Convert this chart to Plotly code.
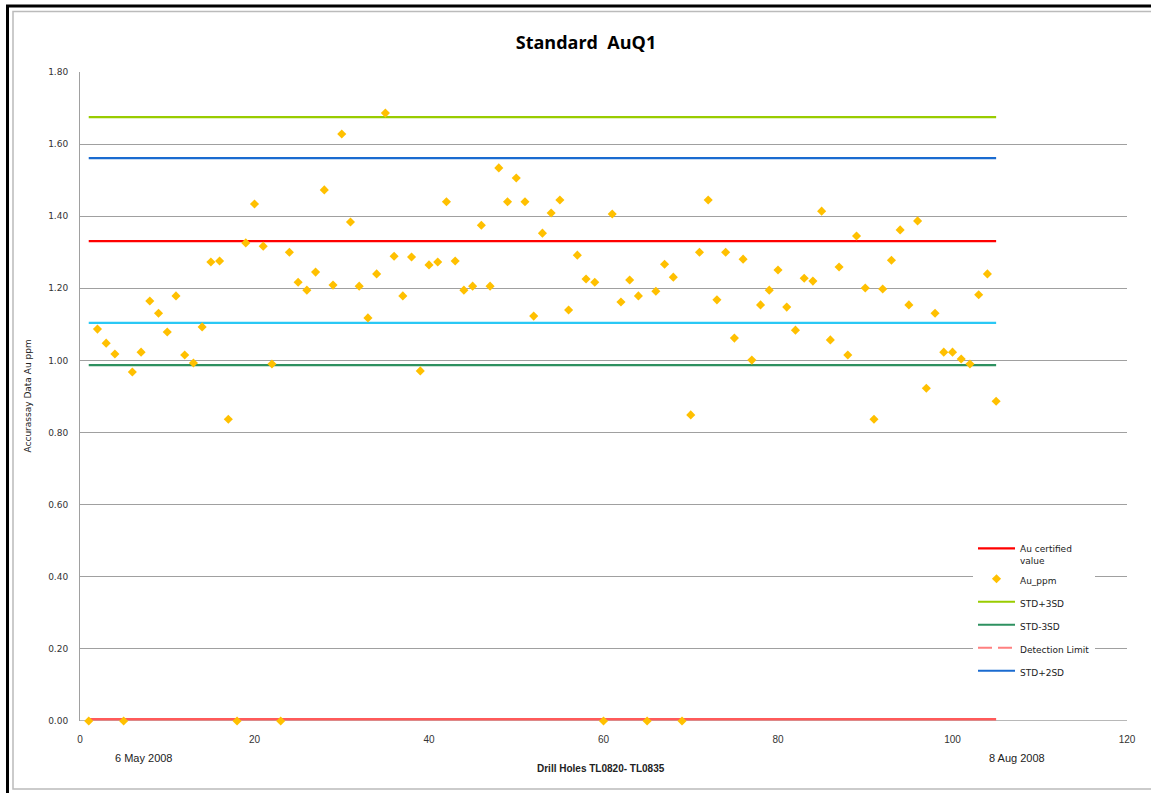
import plotly.graph_objects as go

# ---------------- data ----------------
holes = list(range(1, 106))
au_ppm = [
    0.000, 1.087, 1.048, 1.018, 0.000, 0.968, 1.023, 1.165, 1.131, 1.079,
    1.179, 1.015, 0.993, 1.093, 1.273, 1.276, 0.837, 0.000, 1.326, 1.434,
    1.317, 0.990, 0.000, 1.300, 1.217, 1.195, 1.245, 1.473, 1.209, 1.628,
    1.384, 1.206, 1.118, 1.240, 1.686, 1.289, 1.179, 1.287, 0.971, 1.265,
    1.273, 1.440, 1.276, 1.195, 1.206, 1.375, 1.206, 1.534, 1.440, 1.506,
    1.440, 1.123, 1.353, 1.409, 1.445, 1.140, 1.292, 1.226, 1.217, 0.000,
    1.406, 1.162, 1.223, 1.179, 0.000, 1.192, 1.267, 1.231, 0.000, 0.849,
    1.300, 1.445, 1.168, 1.300, 1.062, 1.281, 1.001, 1.154, 1.195, 1.251,
    1.148, 1.084, 1.228, 1.220, 1.414, 1.057, 1.259, 1.015, 1.345, 1.201,
    0.837, 1.198, 1.278, 1.362, 1.154, 1.387, 0.923, 1.131, 1.023, 1.023,
    1.004, 0.990, 1.182, 1.240, 0.887,
]
certified = 1.331
std_plus_3sd = 1.675
std_plus_2sd = 1.561
std_minus_2sd = 1.104
std_minus_3sd = 0.987
detection_limit = 0.005

y_ticks = [0.0, 0.2, 0.4, 0.6, 0.8, 1.0, 1.2, 1.4, 1.6, 1.8]
x_ticks = [0, 20, 40, 60, 80, 100, 120]

# ---------------- geometry helpers (pixel -> paper) ----------------
W, H = 1151, 793
L, R, T, B = 80, 24, 72, 72
PW, PH = W - L - R, H - T - B


def px(x):
    return (x - L) / PW


def py(y):
    return (H - B - y) / PH


def flat(v):
    return [v] * len(holes)


fig = go.Figure()

line_w = 2.2
fig.add_trace(go.Scatter(x=holes, y=flat(std_plus_3sd), mode="lines", name="STD+3SD",
                         line=dict(color="#99CC00", width=line_w), legendrank=3,
                         legendgroup="g3"))
fig.add_trace(go.Scatter(x=holes, y=flat(std_plus_2sd), mode="lines", name="STD+2SD",
                         line=dict(color="#1A6BD0", width=line_w), legendrank=6,
                         legendgroup="g6"))
fig.add_trace(go.Scatter(x=holes, y=flat(certified), mode="lines", name="Au certified<br>value",
                         line=dict(color="#FF0000", width=line_w), legendrank=1,
                         legendgroup="g1"))
fig.add_trace(go.Scatter(x=holes, y=flat(std_minus_2sd), mode="lines", name="STD-2SD",
                         line=dict(color="#2AC8F5", width=line_w), showlegend=False))
fig.add_trace(go.Scatter(x=holes, y=flat(std_minus_3sd), mode="lines", name="STD-3SD",
                         line=dict(color="#2E9160", width=line_w), legendrank=4,
                         legendgroup="g4"))
fig.add_trace(go.Scatter(x=holes, y=flat(detection_limit), mode="lines", name="Detection Limit",
                         line=dict(color="#FF5A5A", width=2.5), showlegend=False,
                         cliponaxis=False))
fig.add_trace(go.Scatter(x=holes, y=[None] * len(holes), mode="lines", name="Detection Limit",
                         line=dict(color="#FF8080", width=2, dash="14px,6px"), legendrank=5,
                         legendgroup="g5"))
fig.add_trace(go.Scatter(x=holes, y=au_ppm, mode="markers", name="Au_ppm",
                         marker=dict(symbol="diamond", size=7, color="#FFC000",
                                     line=dict(width=0)),
                         cliponaxis=False, legendrank=2, legendgroup="g2"))

grid_col = "#A0A0A0"
fig.update_xaxes(range=[0, 120], tickvals=x_ticks, ticktext=[str(v) for v in x_ticks],
                 showgrid=False, zeroline=False, showline=False,
                 tickfont=dict(family="Liberation Sans Narrow, Liberation Sans", size=10, color="#333333"),
                 ticklabelstandoff=11)
fig.update_yaxes(range=[0, 1.8], tickvals=y_ticks, tickformat=".2f",
                 showgrid=True, gridcolor=grid_col, gridwidth=1,
                 zeroline=False, showline=True, linecolor=grid_col, linewidth=1,
                 tickfont=dict(family="DejaVu Sans", size=9, color="#333333"),
                 ticklabelstandoff=9)

shapes = [
    # outer black frame (top & left)
    dict(type="line", xref="paper", yref="paper", x0=px(6), x1=px(1160), y0=py(6), y1=py(6),
         line=dict(color="black", width=3)),
    dict(type="line", xref="paper", yref="paper", x0=px(7.5), x1=px(7.5), y0=py(5), y1=py(800),
         line=dict(color="black", width=3)),
    # gray chart-area border
    dict(type="rect", xref="paper", yref="paper", x0=px(13), x1=px(1160), y0=py(789), y1=py(11.5),
         line=dict(color="#BBBBBB", width=1.5)),
    # bottom axis line at 0
    dict(type="line", xref="paper", yref="y", x0=0, x1=1, y0=0, y1=0,
         line=dict(color=grid_col, width=1.5), layer="below"),
]

ann_font = "Liberation Sans Narrow, Liberation Sans"
annotations = [
    dict(text="Accurassay Data Au ppm", xref="paper", yref="paper", x=px(27), y=0.5,
         xanchor="center", yanchor="middle",
         textangle=-90, showarrow=False, font=dict(family="DejaVu Sans", size=9, color="#222222")),
    dict(text="<b>Drill Holes TL0820- TL0835</b>", xref="paper", yref="paper", x=px(601), y=py(768),
         xanchor="center", yanchor="middle",
         showarrow=False, font=dict(family=ann_font, size=10, color="#222222")),
    dict(text="6 May 2008", xref="paper", yref="paper", x=px(143), y=py(758),
         xanchor="center", yanchor="middle",
         showarrow=False, font=dict(family=ann_font, size=11, color="#222222")),
    dict(text="8 Aug 2008", xref="paper", yref="paper", x=px(1017), y=py(758),
         xanchor="center", yanchor="middle",
         showarrow=False, font=dict(family=ann_font, size=11, color="#222222")),
]

fig.update_layout(
    width=W, height=H, autosize=False,
    margin=dict(l=L, r=R, t=T, b=B),
    paper_bgcolor="white", plot_bgcolor="white",
    title=dict(text="<b>Standard  AuQ1</b>", x=586 / W, xanchor="center",
               y=1 - 43 / H, yanchor="middle",
               font=dict(family="Open Sans", size=18, color="black")),
    shapes=shapes,
    annotations=annotations,
    legend=dict(x=px(973), y=py(536), xanchor="left", yanchor="top",
                bgcolor="white", borderwidth=0, traceorder="grouped",
                tracegroupgap=4, valign="top", itemwidth=37,
                font=dict(family="DejaVu Sans", size=9, color="#222222")),
    showlegend=True,
)

fig.write_html("out.html", config={"displayModeBar": False},
               post_script="document.body.style.margin='0';document.body.style.overflow='hidden';")
